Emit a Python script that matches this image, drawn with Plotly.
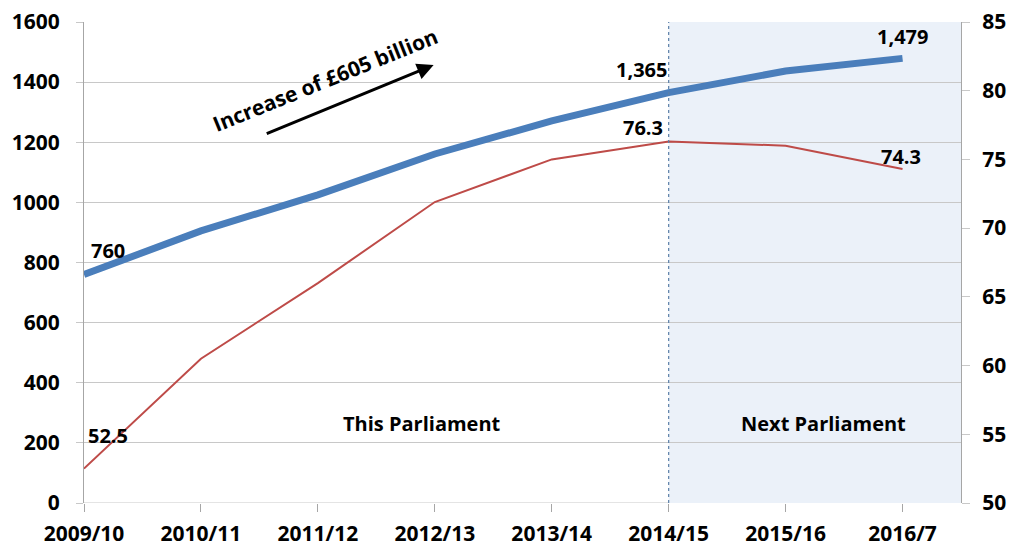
import plotly.graph_objects as go

# Financial years on the category axis
years = ["2009/10", "2010/11", "2011/12", "2012/13", "2013/14", "2014/15", "2015/16", "2016/7"]

# Public sector net debt, £ billion (left axis)
debt_bn = [760, 905, 1025, 1161, 1271, 1365, 1437, 1479]

# Debt as a share of GDP, % (right axis)
debt_pct_gdp = [52.5, 60.5, 66.0, 71.9, 75.0, 76.3, 76.0, 74.3]

left_ticks = [0, 200, 400, 600, 800, 1000, 1200, 1400, 1600]
right_ticks = [50, 55, 60, 65, 70, 75, 80, 85]

BLUE = "#4A7EBB"
RED = "#BE4B48"
GRID = "#C8C8C8"
AXIS = "#A6A6A6"
FONT = "Open Sans"

xs = list(range(len(years)))

fig = go.Figure()

fig.add_trace(go.Scatter(
    x=xs, y=debt_bn, mode="lines",
    line=dict(color=BLUE, width=7, shape="linear"),
    yaxis="y", hoverinfo="skip", showlegend=False,
))
fig.add_trace(go.Scatter(
    x=xs, y=debt_pct_gdp, mode="lines",
    line=dict(color=RED, width=2),
    yaxis="y2", hoverinfo="skip", showlegend=False,
))

split = years.index("2014/15")

# Shaded "next parliament" period and the dotted divider
fig.add_shape(type="rect", xref="x", yref="y",
              x0=split, x1=7.5, y0=0, y1=1600,
              fillcolor="#EBF1F9", line=dict(width=0), layer="below")
fig.add_shape(type="line", xref="x", yref="y",
              x0=split, x1=split, y0=0, y1=1600,
              line=dict(color="#5B7FA8", width=1.2, dash="dot"), layer="above")

lab_font = dict(family=FONT, size=20, color="black", weight="bold")

ann = []
# value labels, left axis series
ann.append(dict(x=0, y=debt_bn[0], xref="x", yref="y", text=f"{debt_bn[0]:,}",
                xanchor="left", yanchor="middle", xshift=5, yshift=24))
ann.append(dict(x=split, y=debt_bn[split], xref="x", yref="y", text=f"{debt_bn[split]:,}",
                xanchor="right", yanchor="middle", xshift=0, yshift=23))
ann.append(dict(x=7, y=debt_bn[7], xref="x", yref="y", text=f"{debt_bn[7]:,}",
                xanchor="center", yanchor="middle", xshift=0, yshift=22))
# value labels, right axis series
ann.append(dict(x=0, y=debt_pct_gdp[0], xref="x", yref="y2", text=f"{debt_pct_gdp[0]}",
                xanchor="left", yanchor="middle", xshift=2, yshift=33))
ann.append(dict(x=split, y=debt_pct_gdp[split], xref="x", yref="y2", text=f"{debt_pct_gdp[split]}",
                xanchor="right", yanchor="middle", xshift=-4, yshift=14))
ann.append(dict(x=7, y=debt_pct_gdp[7], xref="x", yref="y2", text=f"{debt_pct_gdp[7]}",
                xanchor="center", yanchor="middle", xshift=-2, yshift=13))
# period labels
ann.append(dict(x=2.89, y=266, xref="x", yref="y", text="This Parliament",
                xanchor="center", yanchor="middle"))
ann.append(dict(x=6.32, y=266, xref="x", yref="y", text="Next Parliament",
                xanchor="center", yanchor="middle"))
for a in ann:
    a["showarrow"] = False
    a["font"] = lab_font

# rotated note with arrow
ann.append(dict(x=2.06, y=1407, xref="x", yref="y", text="Increase of £605 billion",
                showarrow=False, textangle=-22,
                font=dict(family=FONT, size=21, color="black", weight="bold")))
ann.append(dict(x=2.99, y=1457, xref="x", yref="y",
                ax=1.55, ay=1227, axref="x", ayref="y", text="",
                showarrow=True, arrowhead=2, arrowsize=1.1, arrowwidth=3,
                arrowcolor="black"))

fig.update_layout(
    width=1010, height=547,
    margin=dict(l=84, r=49, t=22, b=44, autoexpand=False),
    paper_bgcolor="white", plot_bgcolor="white",
    annotations=ann,
    xaxis=dict(
        range=[0, 7.5], tickmode="array", tickvals=xs, ticktext=years,
        showgrid=False, zeroline=False, showline=False, automargin=False,
        ticks="outside", ticklen=8, tickcolor=AXIS, tickwidth=1,
        ticklabelstandoff=4,
        tickfont=dict(family=FONT, size=21, color="black", weight="bold"),
    ),
    yaxis=dict(
        range=[0, 1600], tickmode="array", tickvals=left_ticks,
        showgrid=True, gridcolor=GRID, gridwidth=1, automargin=False,
        zeroline=False, showline=True, linecolor=AXIS, linewidth=1,
        ticks="outside", ticklen=7, tickcolor=GRID,
        ticklabelstandoff=12,
        tickfont=dict(family=FONT, size=21, color="black", weight="bold"),
    ),
    yaxis2=dict(
        range=[50, 85], tickmode="array", tickvals=right_ticks,
        overlaying="y", side="right", automargin=False,
        showgrid=False, zeroline=False, showline=True, linecolor=AXIS, linewidth=1,
        ticks="outside", ticklen=8, tickcolor=GRID,
        ticklabelstandoff=8,
        tickfont=dict(family=FONT, size=21, color="black", weight="bold"),
    ),
)

# bottom baseline across the plot
fig.add_shape(type="line", xref="paper", yref="y", x0=0, x1=1, y0=0, y1=0,
              line=dict(color=GRID, width=1), layer="below")

fig.write_html("out.html")
